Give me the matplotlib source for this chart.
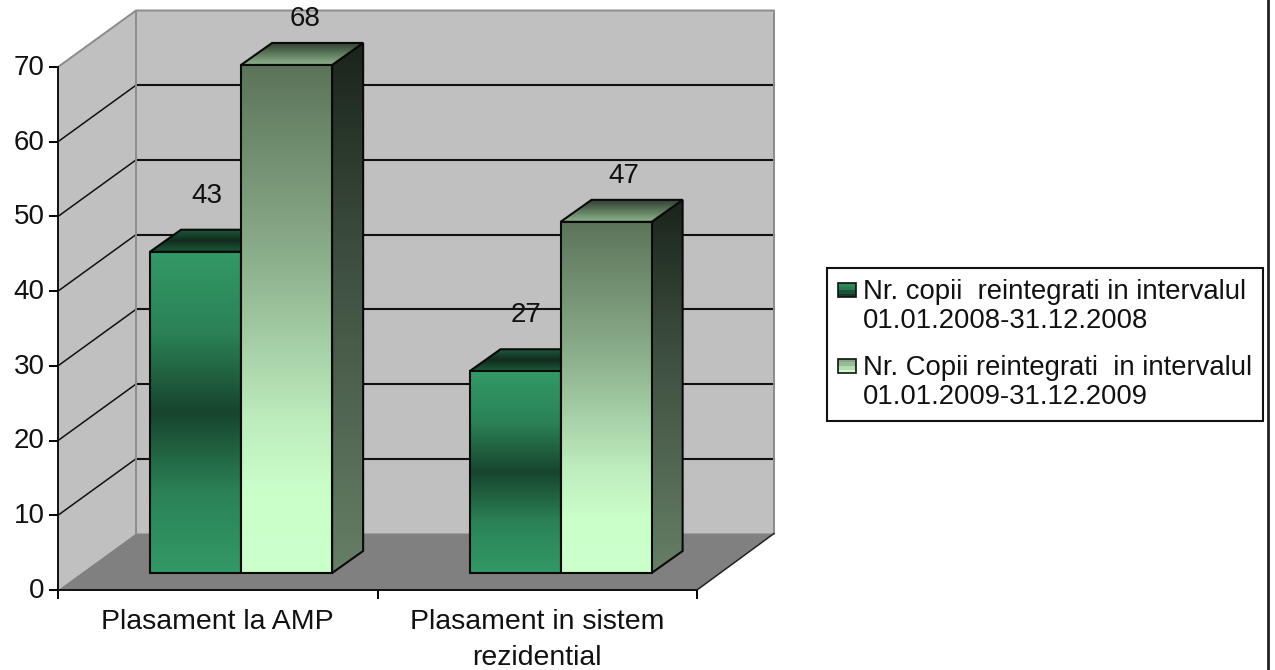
import matplotlib
matplotlib.use("Agg")
import matplotlib.pyplot as plt
import numpy as np
from matplotlib.colors import LinearSegmentedColormap
from matplotlib.patches import Polygon, Rectangle
from matplotlib.lines import Line2D
from matplotlib.legend_handler import HandlerBase
from matplotlib.transforms import ScaledTranslation

plt.rcParams['font.family'] = ['Liberation Sans', 'DejaVu Sans']

categories = ["Plasament la AMP", "Plasament in sistem\nrezidential"]
series_2008 = [43, 27]
series_2009 = [68, 47]
series_names = ["Nr. copii  reintegrati in intervalul\n01.01.2008-31.12.2008",
                "Nr. Copii reintegrati  in intervalul\n01.01.2009-31.12.2009"]
y_ticks = [0, 10, 20, 30, 40, 50, 60, 70]

W, H = 1275, 670
FS = 20
fig = plt.figure(figsize=(W / 100, H / 100), dpi=100, facecolor='white')
L, R, T, B = 58, 697, 67, 590
ax = fig.add_axes([L / W, 1 - B / H, (R - L) / W, (B - T) / H])
ax.set_xlim(0, 2)
ax.set_ylim(0, 70)
PX = 2 / (R - L)
PY = 70 / (B - T)

WALL_DX, WALL_DY = 78 * PX, 56.5 * PY
BAR_DX, BAR_DY = 31 * PX, 22 * PY
BASE = 17 * PY
BAR_START, BAR_W = 0.288, 0.285

C_WALL, C_FLOOR, C_EDGE = '#c0c0c0', '#808080', '#8c8c8c'

ax.add_patch(Polygon([(WALL_DX, WALL_DY), (2 + WALL_DX - 1 * PX, WALL_DY),
                      (2 + WALL_DX - 1 * PX, 70 + WALL_DY), (WALL_DX, 70 + WALL_DY)],
                     fc=C_WALL, ec='none', clip_on=False, zorder=1))
ax.add_patch(Polygon([(0, 0), (WALL_DX, WALL_DY), (WALL_DX, 70 + WALL_DY), (0, 70)],
                     fc=C_WALL, ec='none', clip_on=False, zorder=1))
ax.add_patch(Polygon([(0, 0), (2, 0), (2 + WALL_DX - 1 * PX, WALL_DY), (WALL_DX, WALL_DY)],
                     fc=C_FLOOR, ec='none', clip_on=False, zorder=1.1))

for v in y_ticks[1:-1]:
    ax.plot([0, WALL_DX], [v, v + WALL_DY], color='#111111', lw=1.1, clip_on=False, zorder=1.5)
    ax.plot([WALL_DX, 2 + WALL_DX - 1 * PX], [v + WALL_DY] * 2, color='#111111', lw=1.5,
            clip_on=False, zorder=1.5)
ax.plot([0, WALL_DX, 2 + WALL_DX - 1 * PX, 2 + WALL_DX - 1 * PX],
        [70, 70 + WALL_DY, 70 + WALL_DY, WALL_DY], color=C_EDGE, lw=1.4, clip_on=False, zorder=1.6)
ax.plot([WALL_DX, WALL_DX], [WALL_DY, 70 + WALL_DY], color=C_EDGE, lw=1.4, clip_on=False, zorder=1.6)
ax.plot([2, 2 + WALL_DX - 1 * PX], [0, WALL_DY], color='#222222', lw=1.1, clip_on=False, zorder=1.6)


def face(points, stops, z):
    pts = np.array(points)
    poly = Polygon(pts, fc='none', ec='none', clip_on=False, zorder=z)
    ax.add_patch(poly)
    cmap = LinearSegmentedColormap.from_list('g', stops)
    grad = np.linspace(0, 1, 256)[:, None]
    im = ax.imshow(grad, cmap=cmap, origin='lower', aspect='auto', interpolation='bilinear',
                   extent=(pts[:, 0].min(), pts[:, 0].max(), pts[:, 1].min(), pts[:, 1].max()),
                   zorder=z)
    im.set_clip_box(fig.bbox)
    im.set_clip_path(poly)
    ax.add_patch(Polygon(pts, fc='none', ec='#0a0a0a', lw=1.5, clip_on=False, zorder=z + 0.01,
                         joinstyle='miter'))


def bar3d(x0, value, front, side, top, z):
    x1 = x0 + BAR_W
    y0, y1 = BASE, BASE + value
    face([(x1, y0), (x1 + BAR_DX, y0 + BAR_DY), (x1 + BAR_DX, y1 + BAR_DY), (x1, y1)], side, z)
    face([(x0, y1), (x1, y1), (x1 + BAR_DX, y1 + BAR_DY), (x0 + BAR_DX, y1 + BAR_DY)], top, z + 0.1)
    face([(x0, y0), (x1, y0), (x1, y1), (x0, y1)], front, z + 0.2)


FRONT_1 = ['#339966', '#2b8257', '#17452d', '#2b8257', '#339966']
SIDE_1 = ['#1c5a3a', '#0f2a1b', '#1c5a3a']
TOP_1 = ['#1c5a3a', '#122c1d', '#1f5a3c']
FRONT_2 = [(0, '#ccffcc'), (0.15, '#caffca'), (0.3, '#bdecbd'), (0.62, '#8bae8b'), (1, '#5c745a')]
SIDE_2 = [(0, '#667f66'), (0.6, '#3d4e3f'), (1, '#1a241a')]
TOP_2 = ['#8fb58f', '#5f7c5e', '#333f33']

for i, (a, b) in enumerate(zip(series_2008, series_2009)):
    x = i + BAR_START
    bar3d(x, a, FRONT_1, SIDE_1, TOP_1, 3 + i)
    bar3d(x + BAR_W, b, FRONT_2, SIDE_2, TOP_2, 3.5 + i)
    ax.annotate(str(a), (x + BAR_W / 2, BASE + a), xytext=(11 * 0.72, 56 * 0.72),
                textcoords='offset points', ha='center', va='center', fontsize=FS,
                color='#111111', annotation_clip=False, zorder=10)
    ax.annotate(str(b), (x + 1.5 * BAR_W, BASE + b), xytext=(18 * 0.72, 46 * 0.72),
                textcoords='offset points', ha='center', va='center', fontsize=FS,
                color='#111111', annotation_clip=False, zorder=10)

ax.set_xlim(0, 2)
ax.set_ylim(0, 70)
ax.set_facecolor('none')
for s in ('top', 'right'):
    ax.spines[s].set_visible(False)
for s in ('left', 'bottom'):
    ax.spines[s].set_linewidth(1.4)
    ax.spines[s].set_color('#111111')
    ax.spines[s].set_zorder(2)
ax.set_yticks(y_ticks)
ax.set_xticks(range(len(categories) + 1))
ax.set_xticklabels([])
ax.set_xticks([i + 0.5 for i in range(len(categories))], categories, minor=True)
ax.tick_params(axis='y', length=6.5, width=1.4, pad=3, labelsize=FS, labelcolor='#111111')
ax.tick_params(axis='x', which='major', length=6.5, width=1.4)
ax.tick_params(axis='x', which='minor', length=0, pad=13.5, labelsize=20.5, labelcolor='#111111')
for lab in ax.get_xticklabels(minor=True):
    lab.set_linespacing(1.52)
for lab in ax.get_yticklabels():
    lab.set_transform(lab.get_transform() + ScaledTranslation(0, 1.5 / 72, fig.dpi_scale_trans))


class GradientHandle(HandlerBase):
    def __init__(self, colors):
        super().__init__()
        self.colors = colors

    def create_artists(self, legend, orig, xd, yd, w, h, fs, trans):
        n = len(self.colors)
        hw, hh = 13, 10.5
        x0, y0 = -xd, -yd + h
        arts = [Rectangle((x0, y0 + hh * k / n), hw, hh / n, fc=c, ec='none', transform=trans)
                for k, c in enumerate(self.colors)]
        arts.append(Rectangle((x0, y0), hw, hh, fc='none', ec='#111111', lw=1.2, transform=trans))
        return arts


h1, h2 = Rectangle((0, 0), 1, 1), Rectangle((0, 0), 1, 1)
leg = fig.legend([h1, h2], series_names,
                 handler_map={h1: GradientHandle(['#143a26', '#1c5238', '#2b7a50', '#2f8a5a']),
                              h2: GradientHandle(['#ccffcc', '#b3dcb0', '#97bb94', '#86a884'])},
                 loc='upper left', bbox_to_anchor=(827 / W, 1 - 268 / H), borderaxespad=0,
                 fontsize=19.8, fancybox=False, framealpha=1, edgecolor='#111111',
                 labelcolor='#111111', handletextpad=0.19, handlelength=0.72, labelspacing=0.74,
                 borderpad=0.4)
leg.get_frame().set_linewidth(1.5)
for t in leg.get_texts():
    t.set_linespacing(1.17)

fig.add_artist(Line2D([1268 / W] * 2, [0, 1], color='#222222', lw=2, transform=fig.transFigure))

fig.savefig('out.png', dpi=100)
